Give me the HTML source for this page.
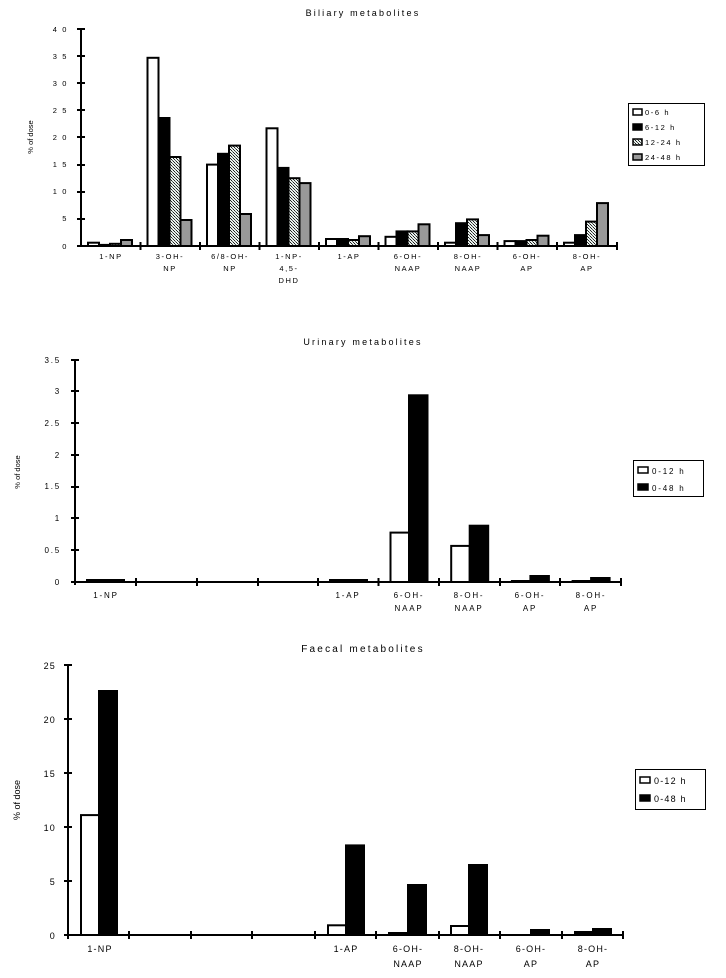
<!DOCTYPE html>
<html><head><meta charset="utf-8"><style>
body{margin:0;background:#fff}
svg{display:block}
text{font-family:"Liberation Sans",sans-serif;fill:#000}
.t{font-size:9px;letter-spacing:2.2px}
.s{font-size:7.5px;letter-spacing:1.6px}
.m{font-size:8px;letter-spacing:1.8px}
.b{font-size:9px;letter-spacing:1.2px}
</style></head><body>
<svg width="726" height="978" viewBox="0 0 726 978" xmlns="http://www.w3.org/2000/svg">
<defs>
<pattern id="hp" width="3" height="3" patternUnits="userSpaceOnUse">
<rect width="3" height="3" fill="#e8f0ec"/>
<rect x="0" y="0" width="1" height="1" fill="#222"/><rect x="1" y="1" width="1" height="1" fill="#555"/><rect x="2" y="2" width="1" height="1" fill="#222"/>
</pattern>
</defs>

<!-- Chart 1 -->
<text class="t" x="363" y="16" text-anchor="middle">Biliary metabolites</text>
<text class="s" x="33" y="137" text-anchor="middle" transform="rotate(-90 33 137)" style="letter-spacing:0">% of dose</text>
<g class="s" text-anchor="end">
<text x="68" y="32">4 0</text><text x="68" y="59">3 5</text><text x="68" y="86">3 0</text><text x="68" y="113">2 5</text><text x="68" y="140">2 0</text><text x="68" y="167">1 5</text><text x="68" y="194">1 0</text><text x="68" y="221">5</text><text x="68" y="249">0</text>
</g>
<g stroke="#000" stroke-width="2">
<line x1="81" y1="29" x2="81" y2="247"/>
<line x1="77" y1="29" x2="85" y2="29"/><line x1="77" y1="56" x2="85" y2="56"/><line x1="77" y1="83" x2="85" y2="83"/><line x1="77" y1="110" x2="85" y2="110"/><line x1="77" y1="137" x2="85" y2="137"/><line x1="77" y1="165" x2="85" y2="165"/><line x1="77" y1="192" x2="85" y2="192"/><line x1="77" y1="219" x2="85" y2="219"/>
<line x1="77" y1="246" x2="617" y2="246"/>
<line x1="140.5" y1="242" x2="140.5" y2="250"/><line x1="200" y1="242" x2="200" y2="250"/><line x1="259.5" y1="242" x2="259.5" y2="250"/><line x1="319" y1="242" x2="319" y2="250"/><line x1="378.5" y1="242" x2="378.5" y2="250"/><line x1="438" y1="242" x2="438" y2="250"/><line x1="497.5" y1="242" x2="497.5" y2="250"/><line x1="557" y1="242" x2="557" y2="250"/><line x1="617" y1="242" x2="617" y2="250"/>
</g>
<g stroke="#000" stroke-width="2">
<rect x="88" y="242.7" width="11" height="3.3" fill="#fff"/><rect x="99" y="244.9" width="11" height="1.1" fill="#000"/><rect x="110" y="243.8" width="11" height="2.2" fill="url(#hp)"/><rect x="121" y="240" width="11" height="6" fill="#999"/>
<rect x="147.5" y="57.8" width="11" height="188.2" fill="#fff"/><rect x="158.5" y="118" width="11" height="128" fill="#000"/><rect x="169.5" y="157" width="11" height="89" fill="url(#hp)"/><rect x="180.5" y="220" width="11" height="26" fill="#999"/>
<rect x="207" y="164.6" width="11" height="81.4" fill="#fff"/><rect x="218" y="153.8" width="11" height="92.2" fill="#000"/><rect x="229" y="145.6" width="11" height="100.4" fill="url(#hp)"/><rect x="240" y="214" width="11" height="32" fill="#999"/>
<rect x="266.5" y="128.3" width="11" height="117.7" fill="#fff"/><rect x="277.5" y="167.9" width="11" height="78.1" fill="#000"/><rect x="288.5" y="178.2" width="11" height="67.8" fill="url(#hp)"/><rect x="299.5" y="183.1" width="11" height="62.9" fill="#999"/>
<rect x="326" y="239" width="11" height="7" fill="#fff"/><rect x="337" y="239" width="11" height="7" fill="#000"/><rect x="348" y="240" width="11" height="6" fill="url(#hp)"/><rect x="359" y="236.2" width="11" height="9.8" fill="#999"/>
<rect x="385.5" y="236.8" width="11" height="9.2" fill="#fff"/><rect x="396.5" y="231.4" width="11" height="14.6" fill="#000"/><rect x="407.5" y="231.4" width="11" height="14.6" fill="url(#hp)"/><rect x="418.5" y="224.3" width="11" height="21.7" fill="#999"/>
<rect x="445" y="242.7" width="11" height="3.3" fill="#fff"/><rect x="456" y="223.2" width="11" height="22.8" fill="#000"/><rect x="467" y="219.4" width="11" height="26.6" fill="url(#hp)"/><rect x="478" y="235.1" width="11" height="10.9" fill="#999"/>
<rect x="504.5" y="241.1" width="11" height="4.9" fill="#fff"/><rect x="515.5" y="241.1" width="11" height="4.9" fill="#000"/><rect x="526.5" y="240" width="11" height="6" fill="url(#hp)"/><rect x="537.5" y="235.7" width="11" height="10.3" fill="#999"/>
<rect x="564" y="242.7" width="11" height="3.3" fill="#fff"/><rect x="575" y="235.1" width="11" height="10.9" fill="#000"/><rect x="586" y="221.6" width="11" height="24.4" fill="url(#hp)"/><rect x="597" y="203.1" width="11" height="42.9" fill="#999"/>
</g>
<g class="s" text-anchor="middle">
<text x="111" y="259">1-NP</text>
<text x="170" y="259">3-OH-</text><text x="170" y="271">NP</text>
<text x="230" y="259">6/8-OH-</text><text x="230" y="271">NP</text>
<text x="289" y="259">1-NP-</text><text x="289" y="271">4,5-</text><text x="289" y="283">DHD</text>
<text x="349" y="259">1-AP</text>
<text x="408" y="259">6-OH-</text><text x="408" y="271">NAAP</text>
<text x="468" y="259">8-OH-</text><text x="468" y="271">NAAP</text>
<text x="527" y="259">6-OH-</text><text x="527" y="271">AP</text>
<text x="587" y="259">8-OH-</text><text x="587" y="271">AP</text>
</g>
<rect x="628.5" y="103.5" width="76" height="62" fill="#fff" stroke="#000" stroke-width="1"/>
<g stroke="#000" stroke-width="1.5">
<rect x="633" y="109" width="9" height="6" fill="#fff"/><rect x="633" y="124" width="9" height="6" fill="#000"/><rect x="633" y="139" width="9" height="6" fill="url(#hp)"/><rect x="633" y="154" width="9" height="6" fill="#999"/>
</g>
<g class="s">
<text x="645" y="115">0-6 h</text><text x="645" y="130">6-12 h</text><text x="645" y="145">12-24 h</text><text x="645" y="160">24-48 h</text>
</g>

<!-- Chart 2 -->
<text class="t" x="363" y="345" text-anchor="middle">Urinary metabolites</text>
<text class="s" x="20" y="472" text-anchor="middle" transform="rotate(-90 20 472)" style="letter-spacing:0">% of dose</text>
<g class="m" text-anchor="end">
<text x="61" y="363">3.5</text><text x="61" y="394">3</text><text x="61" y="426">2.5</text><text x="61" y="458">2</text><text x="61" y="489">1.5</text><text x="61" y="521">1</text><text x="61" y="553">0.5</text><text x="61" y="585">0</text>
</g>
<g stroke="#000" stroke-width="2">
<line x1="75" y1="360" x2="75" y2="585"/>
<line x1="71" y1="360" x2="79" y2="360"/><line x1="71" y1="391" x2="79" y2="391"/><line x1="71" y1="423" x2="79" y2="423"/><line x1="71" y1="455" x2="79" y2="455"/><line x1="71" y1="487" x2="79" y2="487"/><line x1="71" y1="518" x2="79" y2="518"/><line x1="71" y1="550" x2="79" y2="550"/>
<line x1="71" y1="582" x2="621" y2="582"/>
<line x1="136" y1="578" x2="136" y2="586"/><line x1="197" y1="578" x2="197" y2="586"/><line x1="258" y1="578" x2="258" y2="586"/><line x1="318" y1="578" x2="318" y2="586"/><line x1="378.5" y1="578" x2="378.5" y2="586"/><line x1="439" y1="578" x2="439" y2="586"/><line x1="500" y1="578" x2="500" y2="586"/><line x1="560" y1="578" x2="560" y2="586"/><line x1="621" y1="578" x2="621" y2="586"/>
</g>
<g stroke="#000" stroke-width="2">
<rect x="87" y="580" width="37" height="2" fill="#000"/>
<rect x="330" y="580" width="37" height="2" fill="#000"/>
<rect x="390.5" y="532.6" width="18.5" height="49.4" fill="#fff"/><rect x="409" y="395.3" width="18.5" height="186.7" fill="#000"/>
<rect x="451.2" y="545.9" width="18.5" height="36.1" fill="#fff"/><rect x="469.7" y="525.7" width="18.5" height="56.3" fill="#000"/>
<rect x="511.9" y="581" width="18.5" height="1" fill="#000"/><rect x="530.4" y="576" width="18.5" height="6" fill="#000"/>
<rect x="572.6" y="581" width="18.5" height="1" fill="#000"/><rect x="591.1" y="578" width="18.5" height="4" fill="#000"/>
</g>
<g class="m" text-anchor="middle">
<text x="106" y="598">1-NP</text>
<text x="348" y="598">1-AP</text>
<text x="409" y="598">6-OH-</text><text x="409" y="611">NAAP</text>
<text x="469" y="598">8-OH-</text><text x="469" y="611">NAAP</text>
<text x="530" y="598">6-OH-</text><text x="530" y="611">AP</text>
<text x="591" y="598">8-OH-</text><text x="591" y="611">AP</text>
</g>
<rect x="633.5" y="460.5" width="70" height="36" fill="#fff" stroke="#000" stroke-width="1"/>
<g stroke="#000" stroke-width="1.5">
<rect x="638" y="467" width="10" height="6" fill="#fff"/><rect x="638" y="484" width="10" height="6" fill="#000"/>
</g>
<g class="m"><text x="652" y="474">0-12 h</text><text x="652" y="491">0-48 h</text></g>

<!-- Chart 3 -->
<text class="t" x="363" y="652" text-anchor="middle" style="font-size:10px">Faecal metabolites</text>
<text class="b" x="20" y="800" text-anchor="middle" transform="rotate(-90 20 800)" style="letter-spacing:0">% of dose</text>
<g class="b" text-anchor="end">
<text x="56" y="669">25</text><text x="56" y="723">20</text><text x="56" y="777">15</text><text x="56" y="831">10</text><text x="56" y="885">5</text><text x="56" y="939">0</text>
</g>
<g stroke="#000" stroke-width="2">
<line x1="68" y1="665" x2="68" y2="939"/>
<line x1="64" y1="665" x2="72" y2="665"/><line x1="64" y1="719" x2="72" y2="719"/><line x1="64" y1="773" x2="72" y2="773"/><line x1="64" y1="827" x2="72" y2="827"/><line x1="64" y1="881" x2="72" y2="881"/>
<line x1="64" y1="935" x2="623" y2="935"/>
<line x1="129" y1="931" x2="129" y2="939"/><line x1="191" y1="931" x2="191" y2="939"/><line x1="252" y1="931" x2="252" y2="939"/><line x1="315" y1="931" x2="315" y2="939"/><line x1="376" y1="931" x2="376" y2="939"/><line x1="439" y1="931" x2="439" y2="939"/><line x1="500" y1="931" x2="500" y2="939"/><line x1="562" y1="931" x2="562" y2="939"/><line x1="623" y1="931" x2="623" y2="939"/>
</g>
<g stroke="#000" stroke-width="2">
<rect x="81" y="815.1" width="18" height="119.9" fill="#fff"/><rect x="99" y="691" width="18" height="244" fill="#000"/>
<rect x="328" y="925.3" width="18" height="9.7" fill="#fff"/><rect x="346" y="845.4" width="18" height="89.6" fill="#000"/>
<rect x="389" y="933" width="19" height="2" fill="#000"/><rect x="408" y="885" width="18" height="50" fill="#000"/>
<rect x="451" y="926" width="18" height="9" fill="#fff"/><rect x="469" y="865" width="18" height="70" fill="#000"/>
<rect x="531" y="930" width="18" height="5" fill="#000"/>
<rect x="575" y="932" width="18" height="3" fill="#000"/><rect x="593" y="929" width="18" height="6" fill="#000"/>
</g>
<g class="b" text-anchor="middle">
<text x="100" y="952">1-NP</text>
<text x="346" y="952">1-AP</text>
<text x="408" y="952">6-OH-</text><text x="408" y="967">NAAP</text>
<text x="469" y="952">8-OH-</text><text x="469" y="967">NAAP</text>
<text x="531" y="952">6-OH-</text><text x="531" y="967">AP</text>
<text x="593" y="952">8-OH-</text><text x="593" y="967">AP</text>
</g>
<rect x="635.5" y="769.5" width="70" height="40" fill="#fff" stroke="#000" stroke-width="1"/>
<g stroke="#000" stroke-width="1.5">
<rect x="640" y="777" width="10" height="6" fill="#fff"/><rect x="640" y="795" width="10" height="6" fill="#000"/>
</g>
<g class="b"><text x="654" y="784">0-12 h</text><text x="654" y="802">0-48 h</text></g>
</svg>
</body></html>
